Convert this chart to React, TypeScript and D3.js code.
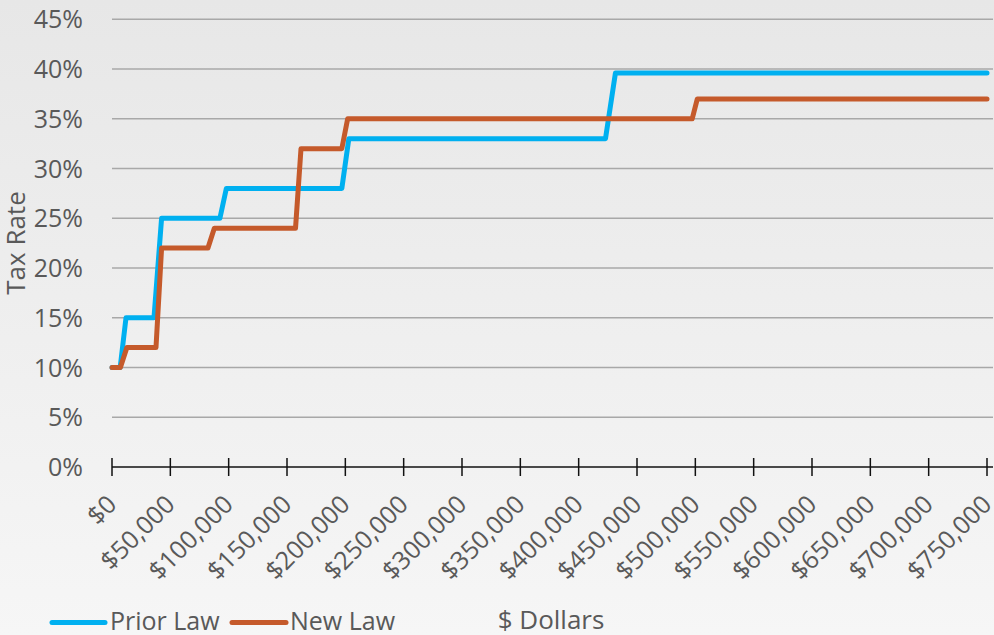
import React from "react";
import * as d3 from "d3";

const W = 994;
const H = 635;

// Prior Law step vertices (income $, rate %)
const priorIncome = [0, 7000, 12000, 36000, 42500, 92500, 98000, 197000, 203000, 423000, 431500, 750000];
const priorRate = [10, 10, 15, 15, 25, 25, 28, 28, 33, 33, 39.6, 39.6];

// New Law step vertices (income $, rate %)
const newIncome = [0, 7200, 12700, 37700, 42500, 82200, 87700, 157300, 162000, 197000, 202000, 497300, 501700, 750000];
const newRate = [10, 10, 12, 12, 22, 22, 24, 24, 32, 32, 35, 35, 37, 37];

const xTickValues = [0, 50000, 100000, 150000, 200000, 250000, 300000, 350000, 400000, 450000, 500000, 550000, 600000, 650000, 700000, 750000];
const yTickValues = [0, 5, 10, 15, 20, 25, 30, 35, 40, 45];

const seriesNames = ["Prior Law", "New Law"];
const seriesColors = ["#00B0F0", "#C55A2B"];

const FONT = "'Open Sans', 'Noto Sans', sans-serif";
const TEXT = "#595959";

export default function App() {
  const x = d3.scaleLinear().domain([0, 750000]).range([112, 987]);
  const y = d3.scaleLinear().domain([0, 45]).range([467, 19.3]);
  const line = d3
    .line<[number, number]>()
    .x((d) => x(d[0]))
    .y((d) => y(d[1]));

  const prior: [number, number][] = priorIncome.map((v, i) => [v, priorRate[i]]);
  const nw: [number, number][] = newIncome.map((v, i) => [v, newRate[i]]);
  const fmt = d3.format("$,.0f");

  return (
    <svg
      width={W}
      height={H}
      style={{ position: "fixed", left: 0, top: 0, fontFamily: FONT }}
    >
      <defs>
        <linearGradient id="bg" x1="0" y1="0" x2="0" y2="1">
          <stop offset="0" stopColor="#e7e7e7" />
          <stop offset="1" stopColor="#f6f6f6" />
        </linearGradient>
      </defs>
      <rect x={0} y={0} width={W} height={H} fill="url(#bg)" />

      {/* gridlines */}
      {yTickValues
        .filter((v) => v > 0)
        .map((v) => (
          <line key={v} x1={112} x2={993} y1={y(v)} y2={y(v)} stroke="#a8a8a8" strokeWidth={1.5} />
        ))}

      {/* y labels */}
      {yTickValues.map((v) => (
        <text key={v} x={83} y={y(v)} dy="0.36em" textAnchor="end" fontSize={25} fill={TEXT}>
          {v + "%"}
        </text>
      ))}

      {/* x axis */}
      <line x1={112} x2={993} y1={y(0)} y2={y(0)} stroke="#111" strokeWidth={1.5} />
      {xTickValues.map((v) => (
        <line key={v} x1={x(v)} x2={x(v)} y1={458} y2={476} stroke="#111" strokeWidth={1.5} />
      ))}
      {xTickValues.map((v) => (
        <text
          key={v}
          transform={`translate(${x(v) + 6},506) rotate(-45)`}
          textAnchor="end"
          fontSize={25}
          fill={TEXT}
        >
          {fmt(v)}
        </text>
      ))}

      {/* lines */}
      <path d={line(prior) || ""} fill="none" stroke={seriesColors[0]} strokeWidth={5} strokeLinejoin="round" strokeLinecap="round" />
      <path d={line(nw) || ""} fill="none" stroke={seriesColors[1]} strokeWidth={5} strokeLinejoin="round" strokeLinecap="round" />

      {/* axis titles */}
      <text transform="translate(25,243) rotate(-90)" textAnchor="middle" fontSize={26} fill={TEXT}>
        Tax Rate
      </text>
      <text x={551} y={629} textAnchor="middle" fontSize={26} fill={TEXT}>
        $ Dollars
      </text>

      {/* legend */}
      <line x1={52} x2={105} y1={622.5} y2={622.5} stroke={seriesColors[0]} strokeWidth={5} strokeLinecap="round" />
      <text x={110} y={630} fontSize={25} fill={TEXT}>
        {seriesNames[0]}
      </text>
      <line x1={232} x2={286} y1={622.5} y2={622.5} stroke={seriesColors[1]} strokeWidth={5} strokeLinecap="round" />
      <text x={290} y={630} fontSize={25} fill={TEXT}>
        {seriesNames[1]}
      </text>
    </svg>
  );
}
